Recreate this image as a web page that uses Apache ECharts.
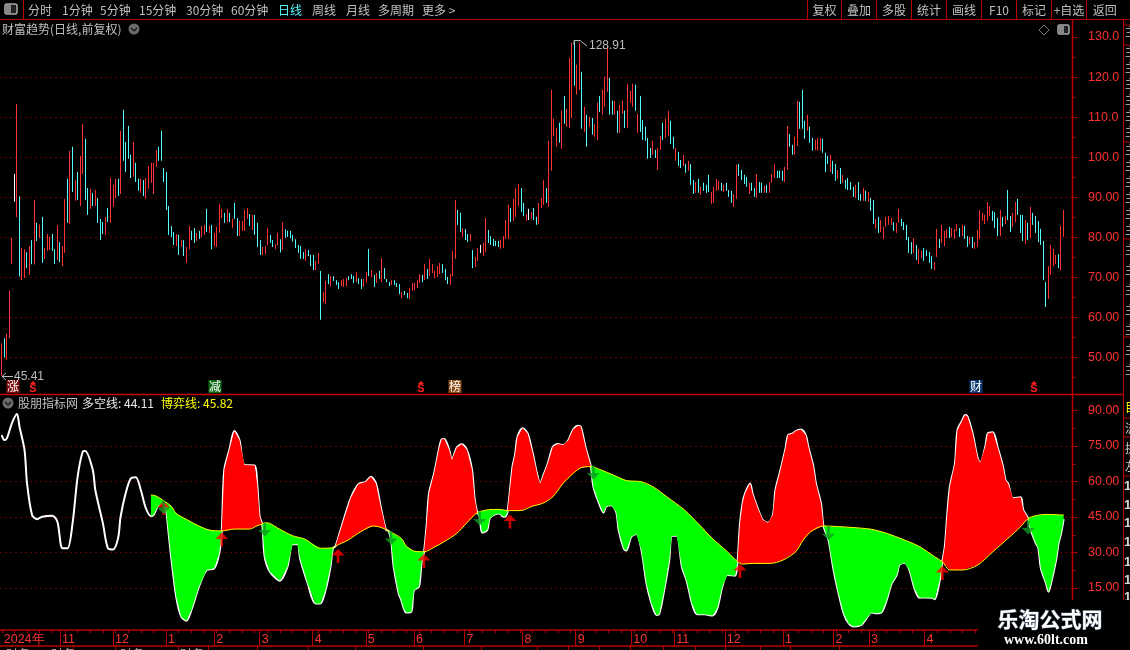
<!DOCTYPE html>
<html><head><meta charset="utf-8">
<style>html,body{margin:0;padding:0;background:#000}#c{width:1130px;height:650px}</style>
<script src="https://cdn.jsdelivr.net/npm/echarts@6/dist/echarts.min.js"></script>
</head><body><div id="c"></div>
<script>
// ---- candle data: high / low of each session, tone r=up c=down w=flat ----
const highA=[53.5,54.8,56,66.7,79.8,95.8,113.3,90.2,77.3,77,76.3,77.8,79.3,89.3,83.6,83.2,85.1,77.3,80.8,80.1,80.8,77,83,78.8,77.8,89.6,94.6,101.6,102.6,94.3,96.3,100.3,108.3,104.6,92.3,92.1,91.1,91.8,89.8,84.6,83.8,85.1,87.3,94.8,93.1,94.6,94.6,106.6,111.8,103.8,107.8,100.6,103.8,98.6,94.6,94.6,94.3,94.8,97.8,98.6,98.6,101.8,102.6,106.6,97.3,96.3,87.8,82.8,81.3,80.8,80.6,79.3,79.3,77.6,82.8,81.6,82.3,81.1,81.6,82.8,83.1,87.1,82.8,83.1,81.1,82.6,88.3,87.1,86.1,87.1,86.1,84.6,88.6,84.8,84.1,84.1,86.8,87.3,85.8,85.6,85.6,83.6,79.3,77.6,77.8,82.3,80.6,79.3,78.3,81.1];
const lowA=[45.41,50,49.5,54.8,73.3,88.9,85,70.2,69.3,69.9,72.3,70.6,73.3,73.2,79.1,79.8,73.6,74.6,76.6,76.8,76.6,73.3,74.3,73.8,72.8,76.1,83.6,83.3,91.3,89.1,89.3,87.8,95.8,89.3,85.6,87.1,87.8,87.8,83.6,79.3,80.8,80.6,83.8,83.6,87.6,89.8,90.3,90.8,99.1,96.3,99.6,94.8,95.1,93.8,91.6,91.1,90.3,89.6,92.1,93.6,90.8,97.6,99.1,99.1,93.8,86.8,80.6,80.1,78.1,77.8,75.6,77.6,75.3,73.6,77,79.3,78.6,79.1,79.6,80.1,80.6,81.3,81.1,77,77.8,77.6,81.1,84.8,83.6,83.8,83.8,82.3,84.6,80.3,80.3,81.6,81.6,84.6,82.8,81.8,80.6,77.6,75.6,75.6,75.8,78,78.6,77.6,77,78];
const toneA="rcrrrwrcrrcrcrcrcrrrccrcrrcrcrcrrccrcrcccrcrrrcrccccrccrcrrrrrcccccccrcrcrrccrcrrcrcrrrrcrcrccrrrrcrcccrrrccrr";
const highB=[79.5,83.75,82,81.6,81.6,80.6,79.5,78.1,77.8,76.3,77,76.8,75.6,75.6,74.1,76.1,71.6,66.3,69.1,70.8,70.3,70.3,69.3,68.8,69.3,69.6,69.8,70.3,70.8,70.3,71.3,69.8,69.6,69.6,71.3,77.1,71.8,70.6,71.1,71.6,74.8,72.3,69.6,68.8,69.3,69.3,68.6,68.3,66.3,66.6,66.1,67.3,68.6,68.6,69.3,70.8,70.6,73.3,72.1,74.6,73.3,71.6,72.8,73.6,73.3,72.1,70.1,70.8,76.6,89.3,86.8,86.1,82.3,82.1,80.8,80.8,76.8,75.1,77.3,78.1,78.6,84.8,81.8,80.3,79.6,79.1,79.1,79.3,80.3,84.3,88.1,87.3,89.6,92.3,93.3,92.3,88.6,85.8,87.1,86.3,87.3,85.1,88.6,89.8,94.3,92.3,104.1,116.8,109.6,107.3,108.6];
const lowB=[76.2,76.8,79.9,80.1,79.75,78.9,77.3,76.1,74.6,74.6,74.1,75.3,72.8,71.8,71.8,73.3,59.4,63.8,63.3,68.3,67.8,69.1,68.1,67.1,67.75,67.6,67.8,69.3,69.6,68.6,68.8,68.3,67.1,67.6,68.8,70.3,70.1,67.6,68.6,69.6,68.8,69.6,68.8,67.8,68.1,68.1,67.6,65.8,64.8,65.6,64.8,64.6,66.6,66.8,67.3,68.6,68.8,69.3,69.6,70.3,71.1,69.8,70.1,70.8,71.1,69.3,68.3,68.1,70.3,74.6,83.1,81.3,80.1,79.3,78.8,79.1,72.3,72.6,74.1,76.1,75.3,76.3,78.6,78.1,77.8,77.8,77.6,77.1,77.3,79.6,79.6,83.8,84.1,85.1,87.8,86.3,85.3,84.1,84.3,84.6,84.3,83.1,83.3,87.3,88.1,88.6,87.6,96.6,105.3,102.6,103.6];
const toneB="crccccccccrcccrrcrrcrcccrrrcccrccrrcrcrcrcccrcccrccrrrrrcrcrrrrrcccrrrccrccrcrrwrrcccccrrrrcrrrccrwrccrrrcrrrrc";
const highC=[111.6,115.3,112.1,124.8,128.6,128.91,123.1,128.6,121.3,112.6,110.6,110.1,109.8,108.3,113.6,115.3,116.8,120.1,127.8,119.8,114.1,114.1,111.6,113.1,114.1,111.6,118.3,116.6,118.3,118.1,110.8,115.3,109.3,107.6,104.8,102.3,104.1,101.8,102.3,105.3,108.6,109.6,111.6,109.1,105.1,102.3,101.3,99.3,100.6,98.3,99.1,98.3,94.3,93.8,94.6,92.6,93.6,93.1,95.6,91.3,92.6,94.6,94.1,93.6,93.1,93.6,91.8,91.6,90.8,98.1,98.3,96.8,95.6,95.1,93.6,93.6,92.3,95.8,93.8,93.6,92.8,93.1,93.8,95.8,98.3,96.6,96.6,96.6,97.6,107.8,105.8,103.1,105.1,114.1,113.8,116.8,109.1,110.6,107.6,104.8,104.3,104.8,104.8,104.6,101.1,100.3];
const lowC=[102.1,108.3,107.6,107.3,109.8,117.8,115.6,116.8,107.1,106.3,102.6,107.6,105.6,105.1,104.3,111.3,110.6,112.6,116.3,110.6,110.6,110.6,106.1,106.1,110.8,107.3,107.3,113.6,112.6,111.6,106.1,106.3,104.3,104.1,99.6,99.8,100.6,99.8,96.8,101.8,104.3,104.8,105.3,103.3,102.1,99.1,97.8,97.3,97.8,96.1,96.6,93.1,90.8,91.1,91.1,90.6,91.6,91.1,91.3,88.3,88.6,91.6,91.8,91.6,91.3,91.6,90.1,88.6,87.6,89.6,95.3,94.3,93.3,92.6,90.8,91.6,90.1,89.8,91.1,91.1,91.1,91.1,91.1,93.6,94.8,94.8,94.8,94.1,93.8,96.8,102.6,100.6,100.6,102.8,107.1,107.1,104.6,106.6,103.6,101.6,101.8,101.6,101.6,101.1,96.3,98.3];
const toneC="rcrrrcrrcrcrcrrcrrrccrcrrcrrrcrcccccrcrrcrrccrccrcrccrcrcccrrrrcrcccrrccccrccrccrcrrrcccrrccrrcccrccrrrccc";
const highD=[100.6,99.1,98.3,96.8,97.3,95.6,94.3,94.8,93.8,92.6,93.1,93.8,90.8,92.3,91.6,91.3,89.8,89.3,84.6,85.1,84.3,82.6,85.1,85.3,84.8,83.8,83.6,87.1,84.6,83.8,83.1,80.1,78.8,79.8,78.1,77.1,76.6,77.3,76.8,76.3,75.3,73.8,82.1,79.6,83.1,81.6,82.1,82.6,82.3,82.1,83.3,82.3,83.1,82.8,80.3,80.1,80.1,78.8,81.8,86.8,86.1,85.6,88.8,87.8,86.6,86.3,84.8,86.8,85.1,85.3,91.8,85.3,86.1,88.8,89.6,85.6,85.6,84.3,83.6,87.6,86.1,85.3,84.1,82.1,79.1,68.8,72.8,78.1,77.1,75.6,75.8,82.8,86.8];
const lowD=[96.3,95.8,94.1,94.6,93.3,93.6,92.1,91.8,91.8,90.1,89.8,89.3,89.1,89.1,89.1,88.8,86.6,83.3,82.1,81.1,81.3,79.6,82.6,83.1,83.1,81.6,81.1,83.6,82.8,81.8,79.3,76.1,75.8,76.1,74.3,73.3,74.8,74.1,75.3,73.6,72.1,71.8,75.1,77.3,78.6,77.8,79.8,79.8,80.1,79.6,81.6,80.1,80.3,79.6,77.6,78.3,77.3,77.1,77.6,79.6,84.1,83.3,84.1,85.3,84.1,82.3,80.3,80.3,82.6,83.3,84.3,81.3,82.6,83.8,85.6,81.1,79.1,78.3,79.3,79.8,83.1,81.1,78.8,78.1,69.3,62.6,64.6,70.6,72.8,73.3,72.3,71.8,80.1];
const toneD="rccrcrccccrccrcrccrcrrrrrcrrcccccrcrrccccrrcrrrcrrrcrccrcrrrrrrrcccrcrccrrcccrcrccccccrrrrcrr";

// ---- indicator knots: [session index, value] ----
const whiteKnots=[[0,79.6],[1,77.5],[2,78.2],[4,84.6],[6,88.5],[7,83.2],[9,73.3],[10,59.2],[12,45.8],[14,44.1],[16,45.1],[20,45.5],[22,43],[24,31.8],[26,31.8],[28,42.3],[30,62],[32,72.6],[33,72.9],[36,64.9],[37,56.4],[40,42.3],[42,31.8],[44,31.3],[46,36],[47,45.1],[49,55],[51,61.3],[53,61.8],[55,56.4],[57,48.7],[59,45.4],[60,45.8],[62,50],[64,50.8],[65,48],[66,38.1],[67,28.2],[69,11.3],[71,2.9],[73,1.2],[75,5.7],[78,15.6],[81,22.6],[84,23.3],[86,29.6],[87,39.1],[88,64.9],[90,73.3],[92,81.3],[94,77.5],[96,67],[100,66.8],[101,59.2],[102,45.1],[103,42],[104,28.2],[106,22],[110,18.1],[113,24],[115,33.5],[117,33.5],[118,27.5],[121,17],[124,8.5],[126,8.5],[128,13.8],[130,24],[131,31.8],[132,32.7],[134,39.5],[138,52.9],[141,58.8],[144,59.9],[146,62],[148,59.2],[150,48.7],[152,39.5],[153,39.1],[154,35.3],[155,24],[157,12.7],[158,10],[159,6.4],[160,4.6],[162,5],[163,14.1],[165,15.5],[166,25.4],[167,30.3],[168,40.9],[169,55],[171,63.4],[173,74],[174,77.8],[175,78],[177,73.3],[178,69.1],[180,74.4],[182,75.7],[184,73.3],[186,64.9],[187,52.9],[188,47.2],[189,45.1],[190,38.4],[192,39.5],[193,44.4],[195,46.1],[197,46.5],[198,45.4],[199,45.1],[200,47],[202,66.3],[203,71.2],[204,78.9],[206,82.5],[208,80.3],[210,71.9],[212,62],[213,59.2],[214,62],[216,67.7],[218,74.7],[220,75.8],[222,75.4],[224,77.2],[226,82],[228,83.6],[229,83.2],[231,74],[233,66.3],[234,57.8],[236,51.5],[238,46.8],[239,49.4],[241,50],[243,47.2],[244,39.5],[246,31.7],[247,30.8],[249,36.7],[251,37.8],[253,31.1],[255,17],[257,8.5],[259,3.6],[260,3.9],[262,14.1],[264,26.8],[265,37],[267,37.1],[269,24],[271,17.7],[273,8.5],[275,3.9],[278,3.9],[281,3.4],[283,6.4],[285,15.6],[287,20.5],[290,20.2],[291,26.1],[292,42.3],[293,50.8],[294,55],[296,59.2],[297,54.7],[299,48.7],[301,43.7],[303,42.6],[305,45.8],[306,56.4],[308,64.9],[310,74],[311,79.6],[313,80.3],[314,81.3],[316,82],[318,79.6],[319,74.7],[321,66.3],[322,59.2],[324,50.8],[325,41.2],[327,35.3],[329,22.6],[331,12.7],[333,4.3],[335,0],[337,-1.3],[340,-0.6],[342,2.2],[344,4.7],[346,4.3],[348,4.7],[350,9.9],[352,17],[354,20.5],[355,24.7],[357,25.7],[359,22.6],[361,14.8],[363,10.9],[365,11],[368,10.9],[369,10.2],[371,18.4],[372,26.1],[373,32.5],[374,46.5],[375,57.8],[377,67.7],[378,81.7],[380,86],[381,88.1],[382,87.4],[384,80.3],[386,69.8],[387,68],[389,74.7],[390,80.3],[392,80.8],[394,74],[396,66.3],[397,60.6],[398,59.2],[400,52.9],[403,53.3],[404,48],[406,44.4],[407,39.5],[409,33.9],[410,31.8],[411,23.3],[413,17],[414,13.4],[415,17],[417,26.8],[418,33.9],[419,38.1],[420,44.11]];
const yellowKnots=[[59,54.3],[61,53.9],[64,51.9],[67,49.6],[69,46.5],[73,44],[78,41.2],[82,39.5],[87,39.1],[92,39.9],[98,39.9],[101,41.3],[103,42],[104,42.6],[106,42.3],[110,39.8],[115,37.1],[120,35.6],[126,31.8],[131,32],[132,32.7],[137,35.3],[142,38.8],[147,41.2],[150,40.6],[153,39.1],[158,36],[160,32.7],[163,30.6],[167,30.3],[171,32.2],[175,34.6],[180,38.1],[184,42.6],[188,46.8],[191,47.8],[194,48.2],[197,48.2],[200,47.7],[205,47.7],[210,49.6],[214,50.8],[218,53.6],[222,59.2],[226,63.4],[229,65.8],[233,66.3],[237,64.9],[242,62.7],[247,60.4],[253,59.9],[258,57.5],[263,53.6],[270,48],[276,41.6],[281,36],[287,30.3],[291,26.1],[293,25.1],[297,25.4],[304,25.4],[309,26.8],[314,30.3],[317,35.3],[320,38.8],[325,41.2],[336,40.6],[344,39.8],[350,38.1],[357,35.3],[363,32.5],[369,28.2],[372,26.1],[375,22.6],[380,22.6],[386,24.7],[392,30.3],[398,36],[403,40.9],[406,44.4],[409,45.6],[413,46.1],[420,45.82]];
// fill stretches between crossings: [from, to, colour key]
const fillStretches=[[59,87,'g'],[87,103,'r'],[103,132,'g'],[132,153,'r'],[153,167,'g'],[167,188,'r'],[188,200,'g'],[200,233,'r'],[233,291,'g'],[291,325,'r'],[325,372,'g'],[372,406,'r'],[406,420,'g']];
const buySignals=[[64,48.8],[87,35.5],[133,28.5],[167,26.4],[201,43.1],[292,22.2],[372,21.3]];
const sellSignals=[[64,49.2],[104,39.7],[154,36.1],[189,44.4],[234,63.8],[327,38.2],[406,40.6]];

// ---- time axis ----
const monthIdx=[0,23,44,65,84,102,123,144,163,183,206,227,249,266,286,309,329,343,365];
const monthLabels=['2024年','11','12','1','2','3','4','5','6','7','8','9','10','11','12','1','2','3','4'];

// ---- texts ----
const leftMenu=[['分时',28],['1分钟',62],['5分钟',100],['15分钟',139],['30分钟',186],['60分钟',231],['日线',278],['周线',312],['月线',346],['多周期',378],['更多 >',422]];
const rightMenu=['复权','叠加','多股','统计','画线','F10','标记','+自选','返回'];
const markers=[['涨',13,'#7a0a0a'],['减',215,'#0a6a14'],['榜',455,'#8a4a10'],['财',976,'#0c3a70']];
const sMarks=[33,421,1034];

const high=highA.concat(highB,highC,highD), low=lowA.concat(lowB,lowC,lowD), tone=toneA+toneB+toneC+toneD;
const RED='#ff3232', CYAN='#54fcfc', AX='#b80000';
const cats=Array.from({length:423},(_,i)=>String(i));
const botCats=Array.from({length:424},(_,i)=>String(i));
const timeCats=botCats.map((_,i)=>{const k=monthIdx.indexOf(i);return k>=0?monthLabels[k]:'';});
const candle=high.map((h,i)=>{
  const t=tone[i], up=t!=='c';
  const v=up?[low[i],h,low[i],h]:[h,low[i],low[i],h];
  if(t==='w') return {value:v,itemStyle:{color:'#fff',color0:'#fff',borderColor:'#fff',borderColor0:'#fff'}};
  return v;
});
const FONT='"Noto Sans CJK SC","Liberation Sans",sans-serif';
const NUM='"Liberation Sans",Arial,sans-serif';
const g=[];
function txt(x,y,s,fill,size,extra){g.push({type:'text',silent:true,z:50,x:x,y:y,style:Object.assign({text:s,fill:fill||'#c0c0c0',font:(size||12)+'px '+FONT,textVerticalAlign:'middle'},extra||{})});}
function seg(x1,y1,x2,y2,c,w,z){g.push({type:'line',silent:true,z:z||40,shape:{x1,y1,x2,y2},style:{stroke:c||AX,lineWidth:w||1}});}
// toolbar
seg(0,19.5,1130,19.5); seg(23.5,0,23.5,19);
g.push({type:'rect',z:50,shape:{x:5,y:4,width:12,height:10,r:2},style:{fill:'#222',stroke:'#aaa',lineWidth:1.5}});
g.push({type:'rect',z:51,shape:{x:6,y:5,width:5,height:8},style:{fill:'#888'}});
leftMenu.forEach(m=>txt(m[1],10,m[0],m[0]==='日线'?'#54fcfc':'#c0c0c0',12));
[807.5,841.5,876.5,911.5,946.5,981.5,1016.5,1051.5,1086.5].forEach((x,i,a)=>{
  seg(x,0,x,19);
  const nx=i<a.length-1?a[i+1]:1123;
  txt((x+nx)/2,10,rightMenu[i],'#c0c0c0',12,{textAlign:'center'});
});
// title row
txt(2,29,'财富趋势(日线,前复权)','#c0c0c0',12);
function chev(cx,cy){
  g.push({type:'circle',z:50,shape:{cx,cy,r:5.5},style:{fill:'#6a6a6a'}});
  g.push({type:'polyline',z:51,shape:{points:[[cx-3,cy-1],[cx,cy+2],[cx+3,cy-1]]},style:{stroke:'#111',fill:'none',lineWidth:1.2}});
}
chev(134,29);
g.push({type:'polygon',z:50,shape:{points:[[1044,25],[1049,30],[1044,35],[1039,30]]},style:{fill:'none',stroke:'#777'}});
g.push({type:'rect',z:50,shape:{x:1058,y:25,width:11,height:9,r:1.5},style:{fill:'#222',stroke:'#aaa',lineWidth:1.5}});
g.push({type:'rect',z:51,shape:{x:1059,y:26,width:5,height:7},style:{fill:'#888'}});
// extrema notes
seg(2,376.5,13,376.5,'#bdbdbd',1,45);
g.push({type:'polyline',z:45,shape:{points:[[6,373],[2,376.5],[6,380]]},style:{stroke:'#bdbdbd',fill:'none'}});
txt(14,377,'45.41','#bdbdbd',12,{font:'12px '+NUM});
g.push({type:'polyline',z:45,shape:{points:[[574,45],[574,40.5],[580,40.5],[587,46]]},style:{stroke:'#bdbdbd',fill:'none'}});
txt(589,46,'128.91','#bdbdbd',12,{font:'12px '+NUM});
// event markers
markers.forEach(m=>{
  g.push({type:'rect',z:50,shape:{x:m[1]-6.5,y:380,width:13,height:13},style:{fill:m[2]}});
  txt(m[1],386.5,m[0],'#fff',12,{textAlign:'center'});
});
sMarks.forEach(x=>{
  g.push({type:'polygon',z:50,shape:{points:[[x,381],[x+3,384],[x-3,384]]},style:{fill:'#ff2020'}});
  txt(x,389,'S','#ff2020',11,{textAlign:'center',font:'bold 11px '+NUM});
});
// panel frame
seg(0,394.5,1123,394.5,'#c80000',1.5);
seg(1072.5,20,1072.5,600,AX,1.5);
seg(1123.5,20,1123.5,600,AX,1);
[25,45,142,239,337].forEach(y=>seg(1123,y,1130,y));
[418,437,476].forEach(y=>seg(1123,y,1130,y));
g.push({type:'rect',z:30,shape:{x:1073.5,y:395.5,width:20,height:4},style:{fill:'#000'}});
// legend row
chev(8,403);
txt(18,403,'股朋指标网','#c0c0c0',12);
txt(82,403,'多空线: 44.11','#e8e8e8',12);
txt(161,403,'博弈线: 45.82','#ffff00',12);
// clipped neighbour column
[32,52,68,84,100,116,132,150,166,182,198,214,230,250,270,290,310,330,350,370].forEach(y=>txt(1125,y,'主','#c8c8c8',11));
txt(1125,407,'目','#ffff00',12);
txt(1125,428,'流','#c8c8c8',12); txt(1125,448,'换','#c8c8c8',12); txt(1125,466,'左','#c8c8c8',12);
[486,505,523,542,562,580,597].forEach(y=>txt(1124,y,'1','#d8d8d8',13,{font:'bold 13px '+NUM}));
// row under the time axis
[73,115,178,208,257,308,355,423,481,537,568,599,630,663,695,725,760,790,839,978].forEach(x=>seg(x+.5,646,x+.5,650));
[6,51,120,180].forEach(x=>txt(x,654,'财务','#b0b0b0',12));
// watermark block
g.push({type:'rect',z:60,shape:{x:978,y:600,width:152,height:50},style:{fill:'#000'}});
g.push({type:'text',z:61,x:1050,y:619,style:{text:'乐淘公式网',fill:'#fff',font:'bold 21px '+FONT,textAlign:'center',textVerticalAlign:'middle',stroke:'#4a5a70',lineWidth:1}});
g.push({type:'text',z:61,x:1046,y:640,style:{text:'www.60lt.com',fill:'#fff',font:'bold 14px "Liberation Serif",serif',textAlign:'center',textVerticalAlign:'middle'}});

const chart=echarts.init(document.getElementById('c'),null,{renderer:'canvas'});
const yLabel=(fmt)=>({color:RED,margin:15.5,fontSize:12.5,fontFamily:NUM,showMinLabel:false,align:'left',formatter:fmt});
const dotted={show:true,showMinLine:false,showMaxLine:false,lineStyle:{color:'#c40000',width:1,type:[1,4]}};
const arrowUp='path://M6 0 L12 6 L7.2 6 L7.2 13 L4.8 13 L4.8 6 L0 6 Z';
const arrowDown='path://M4.8 0 L7.2 0 L7.2 7 L12 7 L6 13 L0 7 L4.8 7 Z';
chart.setOption({
  animation:false,backgroundColor:'#000',
  grid:[
    {left:0.5,width:1072,top:37,height:360.5},
    {left:0.5,width:1072,top:410.5,height:213},
    {left:0.5,width:1072,top:630,height:16}
  ],
  xAxis:[
    {type:'category',gridIndex:0,data:cats,boundaryGap:true,axisLine:{show:false},axisTick:{show:false},axisLabel:{show:false},splitLine:{show:false}},
    {type:'category',gridIndex:1,data:botCats,boundaryGap:true,axisLine:{show:false},axisTick:{show:false},axisLabel:{show:false},splitLine:{show:false}},
    {type:'category',gridIndex:2,position:'bottom',data:timeCats,boundaryGap:true,
      axisLine:{show:true,onZero:false,lineStyle:{color:AX,width:1.5}},
      axisTick:{show:true,inside:true,length:16,alignWithLabel:true,interval:(i)=>i>0&&monthIdx.includes(i),lineStyle:{color:AX}},
      axisLabel:{show:true,inside:true,margin:0,interval:(i)=>monthIdx.includes(i),color:RED,fontSize:12.5,fontFamily:NUM,align:'left',padding:[0,0,0,2]},splitLine:{show:false}},
    {type:'category',gridIndex:2,position:'top',data:botCats,boundaryGap:true,
      axisLine:{show:true,onZero:false,lineStyle:{color:AX,width:1.5}},
      axisTick:{show:true,inside:true,length:3,alignWithLabel:true,interval:4,lineStyle:{color:AX}},axisLabel:{show:false},splitLine:{show:false}}
  ],
  yAxis:[
    {type:'value',gridIndex:0,position:'right',min:40,max:130,interval:10,axisLine:{show:false},
      axisTick:{show:true,length:5,lineStyle:{color:AX}},minorTick:{show:true,splitNumber:2,length:3,lineStyle:{color:AX}},
      axisLabel:yLabel(v=>v>=100?v.toFixed(1):v.toFixed(2)),splitLine:dotted},
    {type:'value',gridIndex:1,position:'right',min:0,max:90,interval:15,axisLine:{show:false},
      axisTick:{show:true,length:5,lineStyle:{color:AX}},minorTick:{show:true,splitNumber:2,length:3,lineStyle:{color:AX}},
      axisLabel:yLabel(v=>v.toFixed(2)),splitLine:dotted},
    {type:'value',gridIndex:2,show:false,min:0,max:1}
  ],
  graphic:{elements:g},
  series:[
    {name:'K',type:'candlestick',xAxisIndex:0,yAxisIndex:0,barWidth:1,data:candle,clip:false,
      itemStyle:{color:RED,color0:CYAN,borderColor:RED,borderColor0:CYAN,borderWidth:1}},
    {name:'多空线',type:'line',xAxisIndex:1,yAxisIndex:1,data:whiteKnots,symbol:'none',smooth:0.3,clip:false,z:2,lineStyle:{color:'#fff',width:2}},
    {name:'fill',type:'custom',xAxisIndex:1,yAxisIndex:1,z:3,clip:false,
      data:fillStretches.map(s=>[s[0],s[1]]),encode:{x:[0,1]},
      renderItem:(p,api)=>{
        const s=fillStretches[p.dataIndex];
        const w=whiteKnots.filter(k=>k[0]>=s[0]&&k[0]<=s[1]);
        const y=yellowKnots.filter(k=>k[0]>=s[0]&&k[0]<=s[1]).reverse();
        return {type:'polygon',shape:{points:w.concat(y).map(k=>api.coord(k))},style:{fill:s[2]==='r'?'#ff0000':'#00ff00'}};
      }},
    {name:'博弈线',type:'line',xAxisIndex:1,yAxisIndex:1,data:yellowKnots,symbol:'none',smooth:0.3,clip:false,z:4,lineStyle:{color:'#ffff00',width:1}},
    {name:'buy',type:'scatter',xAxisIndex:1,yAxisIndex:1,z:6,data:buySignals,symbol:arrowUp,symbolSize:[13,14],itemStyle:{color:'#ff0000'}},
    {name:'sell',type:'scatter',xAxisIndex:1,yAxisIndex:1,z:7,data:sellSignals,symbol:arrowDown,symbolSize:[13,14],itemStyle:{color:'#0d9a22'}}
  ]
});
</script></body></html>
